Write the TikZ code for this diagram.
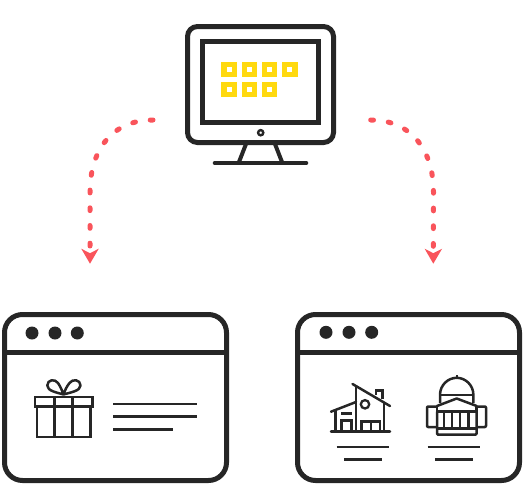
\documentclass[tikz,border=0pt]{standalone}
\usetikzlibrary{arrows.meta}
\definecolor{ink}{HTML}{262626}
\definecolor{coral}{HTML}{F9545B}
\definecolor{sun}{HTML}{FFD90F}
\tikzset{
  x=1pt,y=-1pt,
  windowbox/.style={draw=ink,line width=5pt,rounded corners=18pt,minimum width=222pt,minimum height=166pt,inner sep=0pt},
  thick ink/.style={draw=ink,line width=5pt},
  thin ink/.style={draw=ink,line width=2.5pt},
  textline/.style={draw=ink,line width=2.5pt},
  dotmark/.style={circle,fill=ink,minimum size=13pt,inner sep=0pt},
  tile/.style={draw=sun,line width=5.2pt,minimum size=10.2pt,inner sep=0pt},
  flow/.style={draw=coral,line width=5pt,line cap=round,dash pattern=on 2.8pt off 14.9pt,
    -{Stealth[length=15pt,width=17.5pt,inset=4.5pt,fill=coral,line width=0pt]}},
}
\begin{document}
\begin{tikzpicture}
\useasboundingbox (0,0) rectangle (525,485);
% monitor
\node[thick ink,rounded corners=10pt,minimum width=146pt,minimum height=116pt,inner sep=0pt] (monitor) at (260.5,84.5) {};
\node[thick ink,minimum width=116pt,minimum height=81pt,inner sep=0pt] (screen) at (260.5,82) {};
\foreach \i/\px/\py in {a/229/69.5,b/249.3/69.5,c/269.5/69.5,d/289.8/69.5,e/229/89.7,f/249.3/89.7,g/269.5/89.7}
  \node[tile] (tile\i) at (\px,\py) {};
\node[circle,draw=ink,line width=2.4pt,fill=white,minimum size=5.2pt,inner sep=0pt] (power) at (260.7,132.7) {};
\draw[draw=ink,line width=4pt] (246,144) -- (239,162);
\draw[draw=ink,line width=4pt] (275,144) -- (282,162);
\draw[draw=ink,line width=4.6pt,line cap=round] (215,163) -- (306,163);
% left window
\node[windowbox] (winL) at (115.5,397.5) {};
\draw[thick ink] (winL.west |- 0,352.3) -- (winL.east |- 0,352.3);
\node[dotmark] (dotLa) at (32,333) {};
\node[dotmark] (dotLb) at (55,333) {};
\node[dotmark] (dotLc) at (77.3,333) {};
% gift
\draw[thin ink] (35,396.8) rectangle (92.5,406.5);
\draw[thin ink] (36.8,406.5) -- (36.8,437) -- (90.3,437) -- (90.3,406.5);
\draw[thin ink] (54.3,396.8) -- (54.3,437);
\draw[thin ink] (72.5,396.8) -- (72.5,437);
\draw[thin ink,line join=round] (63.5,394.5) .. controls (57,392.5) and (47.3,391) .. (47.3,385.5) .. controls (47.3,379.5) and (55,378.5) .. (58,383) .. controls (60,386) and (62,390) .. (63.5,394.5)
  .. controls (70,392.5) and (80.5,391) .. (80.5,385.5) .. controls (80.5,379.5) and (72.5,378.5) .. (69.5,383) .. controls (67,386) and (65,390) .. (63.5,394.5);
\draw[textline] (113.3,404) -- (196.7,404);
\draw[textline] (113.3,416.7) -- (196.7,416.7);
\draw[textline] (113.3,429.3) -- (172.7,429.3);
% right window
\node[windowbox] (winR) at (408.5,397.5) {};
\draw[thick ink] (winR.west |- 0,352.3) -- (winR.east |- 0,352.3);
\node[dotmark] (dotRa) at (326,332.3) {};
\node[dotmark] (dotRb) at (349,332.3) {};
\node[dotmark] (dotRc) at (371.7,332.3) {};
% house
\draw[thin ink,line cap=round] (331,431.7) -- (390,431.7);
\draw[thin ink,line cap=round] (331,411.7) -- (356,402);
\draw[thin ink,line cap=round] (352.5,384) -- (390,406);
\draw[thin ink] (356,386) -- (356,431.7);
\draw[thin ink] (384,403) -- (384,431.7);
\draw[thin ink] (335.3,410) -- (335.3,431.7);
\draw[thin ink] (376,395) -- (376,390.5) -- (382.3,390.5) -- (382.3,399);
\draw[draw=ink,line width=2.3pt] (365,404.3) circle (4.2pt);
\draw[thin ink] (341.3,431.7) -- (341.3,420.5) -- (351.7,420.5) -- (351.7,431.7);
\draw[thin ink] (341,413.3) -- (352,413.3);
\draw[thin ink] (361.7,431.7) -- (361.7,421.5) -- (380,421.5) -- (380,431.7);
\draw[thin ink] (370.8,421.5) -- (370.8,431.7);
% capitol
\draw[thin ink] (440,403) -- (440,395) .. controls (440,385) and (448,377.8) .. (456.7,377.8) .. controls (465.4,377.8) and (473.4,385) .. (473.4,395) -- (473.4,403);
\draw[draw=ink,line width=2pt] (456.7,375) -- (456.7,378);
\draw[thin ink] (440,395) -- (473.4,395);
\draw[thin ink,line cap=round,line join=round] (437,406) -- (456.7,398.5) -- (476.7,406);
\draw[thin ink] (437,406) -- (437,411.5) -- (476.7,411.5) -- (476.7,406);
\draw[thin ink,line join=round,rounded corners=1pt] (437,406.5) -- (427,406.5) -- (427,427) -- (437,427);
\draw[thin ink,line join=round,rounded corners=1pt] (476.7,406.5) -- (486,406.5) -- (486,427) -- (476.7,427);
\draw[thin ink,rounded corners=1pt] (437,411.5) -- (437,434.5) -- (476.7,434.5) -- (476.7,411.5);
\draw[thin ink] (437,428.3) -- (476.7,428.3);
\foreach \cx in {444,452,460,468.5} \draw[thin ink] (\cx,411.5) -- (\cx,428.3);
\draw[textline] (336.7,447) -- (389.3,447);
\draw[textline] (344.3,459.3) -- (381.7,459.3);
\draw[textline] (427.7,447) -- (480,447);
\draw[textline] (435,459.3) -- (472.7,459.3);
% connectors
\coordinate (fromL) at (153,120);
\coordinate (toL) at (90,263.7);
\coordinate (fromR) at (370.7,120);
\coordinate (toR) at (433.3,263.7);
\draw[flow] (fromL) .. controls (112,120) and (90,150) .. (90,192) -- (toL);
\draw[flow] (fromR) .. controls (411,120) and (433.5,150) .. (433.5,192) -- (toR);
\end{tikzpicture}
\end{document}
